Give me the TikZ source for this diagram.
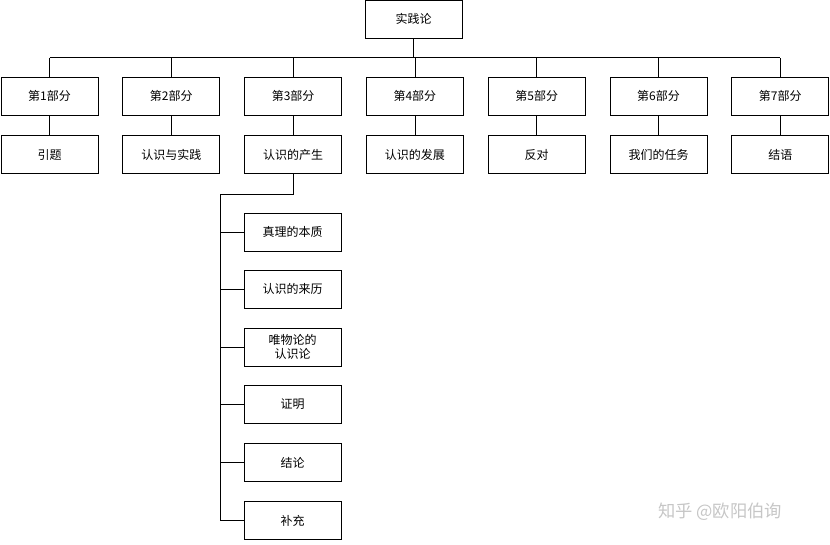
\documentclass[tikz,border=0pt]{standalone}
\usepackage{fontspec}
\newfontfamily\cjk{Noto Sans CJK SC}
\usetikzlibrary{positioning,calc}
\tikzset{box/.style={draw, thick, minimum width=97pt, minimum height=38pt, font=\cjk\large, align=center, inner sep=1pt}}

\begin{document}
\begin{tikzpicture}[x=1pt, y=-1pt]
    \useasboundingbox (0,0) rectangle (830,544);
    \node[box] (root) at (413.5,19) {实践论};
    \foreach \i/\t in {1/引题,2/认识与实践,3/认识的产生,4/认识的发展,5/反对,6/我们的任务,7/结语}
    {
    \node[box] (p\i) at ({49.5+121.8*(\i-1)},96) {第\i 部分};
    \node[box, below=20pt of p\i] (q\i) {\t};
    \draw[thick] (p\i) -- (q\i);
    \draw[thick] (p\i.north) -- ++(0,-19);
    }
    \draw[thick] (root.south) -- ++(0,19);
    \draw[thick] ($(p1.north)+(0,-19)$) -- ($(p7.north)+(0,-19)$);
    \coordinate (bend) at ($(q3.south)+(0,20)$);
    \coordinate (trunk) at (220,520.5);
    \draw[thick] (q3.south) -- (bend) -- (bend -| trunk) -- (trunk);
    \foreach \j/\t/\y in {1/真理的本质/232,2/认识的来历/289,3/唯物论的\\认识论/347,4/证明/404.5,5/结论/462.5,6/补充/520.5}
    {
    \node[box] (c\j) at (292.5,\y) {\t};
    \draw[thick] (c\j.west -| trunk) -- (c\j.west);
    }
    \node[font=\cjk\LARGE, text=gray!45] (wm) at (720,512) {知乎 @欧阳伯询};
\end{tikzpicture}
\end{document}
